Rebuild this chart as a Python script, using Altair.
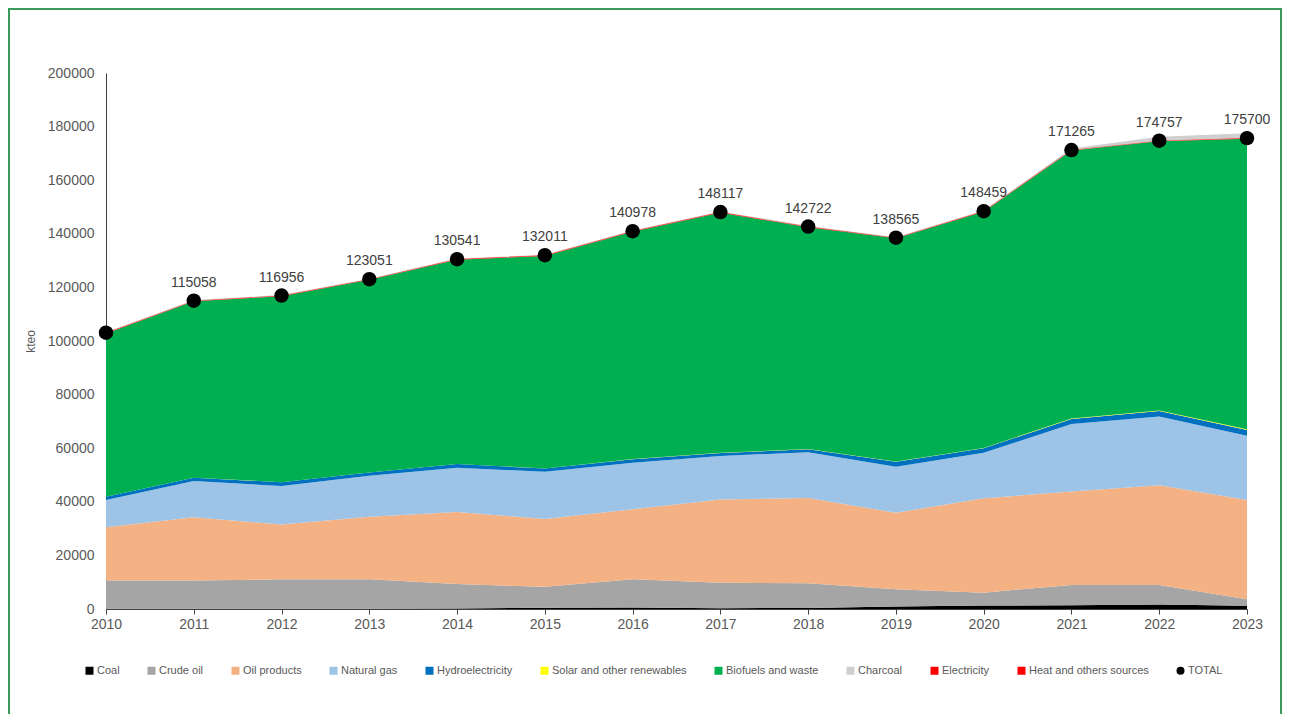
import altair as alt
import pandas as pd

years = list(range(2010, 2024))
coal = [100, 100, 100, 100, 200, 500, 600, 300, 400, 900, 1300, 1400, 1700, 1200]
crude_oil = [10500, 10500, 11000, 11000, 9100, 7800, 10500, 9500, 9200, 6500, 4800, 7600, 7300, 2400]
oil_products = [19900, 23600, 20400, 23300, 26900, 25300, 26100, 31100, 31800, 28500, 35200, 34800, 37200, 37100]
natural_gas = [10200, 13600, 14400, 15300, 16500, 17600, 17400, 16200, 17100, 17200, 17000, 25200, 25600, 23900]
hydro = [1200, 1200, 1400, 1200, 1400, 1200, 1300, 1100, 1100, 1800, 1700, 1900, 2100, 2200]
solar = [10, 10, 20, 20, 30, 40, 50, 60, 80, 100, 120, 150, 200, 250]
biofuels = [60900, 65800, 69400, 71900, 76200, 79300, 84800, 89600, 82800, 83300, 88100, 100000, 100400, 108400]
charcoal = [200, 200, 200, 200, 200, 200, 200, 200, 200, 200, 200, 500, 1500, 1800]
electricity = [150, 150, 150, 150, 150, 150, 150, 150, 150, 150, 150, 150, 150, 150]
heat = [100, 100, 100, 100, 100, 100, 100, 100, 100, 100, 100, 100, 100, 100]
total = [103100, 115058, 116956, 123051, 130541, 132011, 140978, 148117, 142722, 138565, 148459, 171265, 174757, 175700]
total_labels = ["", "115058", "116956", "123051", "130541", "132011", "140978", "148117", "142722", "138565", "148459", "171265", "174757", "175700"]

series_names = ["Coal", "Crude oil", "Oil products", "Natural gas", "Hydroelectricity",
                "Solar and other renewables", "Biofuels and waste", "Charcoal",
                "Electricity", "Heat and others sources", "TOTAL"]
series_colors = ["#000000", "#A5A5A5", "#F4B183", "#9DC3E6", "#0070C0",
                 "#FFFF00", "#00B050", "#D0CECE", "#FF0000", "#FF0000", "#000000"]
series_shapes = ["square"] * 10 + ["circle"]
stack_order = {"Coal": 1, "Crude oil": 2, "Oil products": 3, "Natural gas": 4,
               "Hydroelectricity": 5, "Solar and other renewables": 6,
               "Biofuels and waste": 7, "Electricity": 8, "Heat and others sources": 9,
               "Charcoal": 10}

values = {"Coal": coal, "Crude oil": crude_oil, "Oil products": oil_products,
          "Natural gas": natural_gas, "Hydroelectricity": hydro,
          "Solar and other renewables": solar, "Biofuels and waste": biofuels,
          "Charcoal": charcoal, "Electricity": electricity,
          "Heat and others sources": heat}

rows = []
for name, vals in values.items():
    for y, v in zip(years, vals):
        rows.append({"year": y, "series": name, "value": v, "ord": stack_order[name]})
area_df = pd.DataFrame(rows)

tot_df = pd.DataFrame({"year": years, "value": total, "label": total_labels, "series": "TOTAL"})

W, H = 1141, 536
PL, PT, PR, PB = 98, 65, 35, 105

color_scale = alt.Scale(domain=series_names, range=series_colors)
shape_scale = alt.Scale(domain=series_names, range=series_shapes)

x_enc = alt.X("year:Q", scale=alt.Scale(domain=[2010, 2023], nice=False, zero=False),
              axis=alt.Axis(values=years, format="d", title=None, labelFontSize=14,
                            labelColor="#595959", tickColor="#404040", tickSize=5,
                            domainColor="#404040", labelPadding=3, grid=False,
                            labelFlush=False, labelFont="Liberation Sans"))
y_scale = alt.Scale(domain=[0, 200000], nice=False)

areas = alt.Chart(area_df).mark_area(opacity=1).encode(
    x=x_enc,
    y=alt.Y("value:Q", stack="zero", scale=y_scale,
            axis=alt.Axis(values=list(range(0, 200001, 20000)), format="d", title="kteo",
                          titleFontSize=12, titleFontWeight="normal", titleColor="#595959",
                          titleFont="Liberation Sans", titlePadding=10,
                          labelFontSize=14, labelColor="#595959", labelFont="Liberation Sans",
                          ticks=False, labelPadding=12, domainColor="#404040", grid=False)),
    color=alt.Color("series:N", scale=color_scale,
                    legend=alt.Legend(title=None, orient="none", legendX=-22, legendY=592,
                                      direction="horizontal", columns=11, columnPadding=26,
                                      labelFontSize=11, labelColor="#595959",
                                      labelFont="Liberation Sans", symbolSize=64,
                                      symbolStrokeWidth=0, labelOffset=2)),
    order=alt.Order("ord:Q"),
)

points = alt.Chart(tot_df).mark_point(filled=True, size=210, opacity=1).encode(
    x="year:Q",
    y=alt.Y("value:Q", scale=y_scale),
    color=alt.Color("series:N", scale=color_scale),
    shape=alt.Shape("series:N", scale=shape_scale),
)

labels = alt.Chart(tot_df).mark_text(dy=-18, fontSize=14, color="#404040",
                                      font="Liberation Sans").encode(
    x="year:Q",
    y=alt.Y("value:Q", scale=y_scale),
    text="label:N",
)

border = alt.Chart(pd.DataFrame({"k": [0]})).mark_rect(
    filled=False, stroke="#3A9A5C", strokeWidth=2).encode(
    x=alt.value(-PL + 1), x2=alt.value(W + PR - 1),
    y=alt.value(-PT + 1), y2=alt.value(H + PB + 20),
)

chart = alt.layer(border, areas, points, labels).properties(
    width=W, height=H,
    autosize=alt.AutoSizeParams(type="none"),
    padding={"left": PL, "top": PT, "right": PR, "bottom": PB},
    background="white",
).configure_view(stroke=None).configure_axis(labelFont="Liberation Sans")

chart.save("out.html", embed_options={"renderer": "svg", "actions": False})
